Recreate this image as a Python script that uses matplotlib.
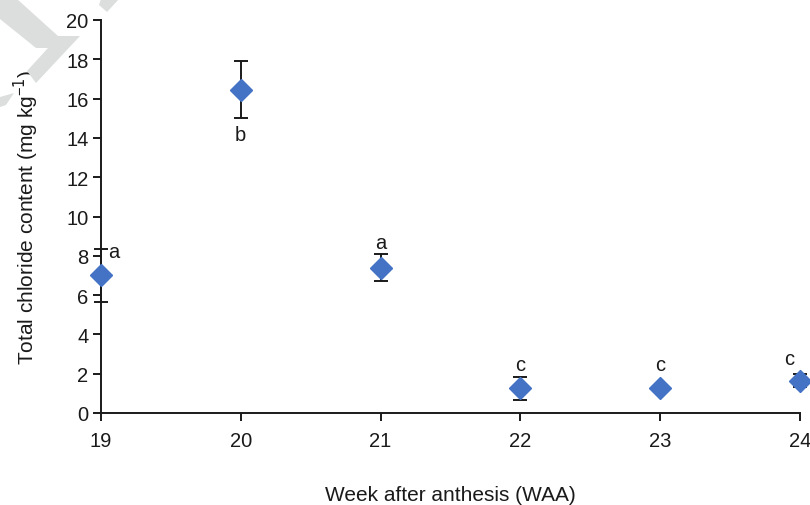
import numpy as np
import matplotlib.pyplot as plt
from matplotlib.patches import Polygon

# ===== DATA =====
weeks = [19, 20, 21, 22, 23, 24]
chloride = [7.0, 16.45, 7.4, 1.25, 1.25, 1.65]
errors = [1.35, 1.45, 0.68, 0.6, 0.15, 0.35]
letters = ['a', 'b', 'a', 'c', 'c', 'c']

plt.rcParams['font.family'] = ['Liberation Sans', 'DejaVu Sans']

W, H = 810, 506
fig = plt.figure(figsize=(W / 100, H / 100), dpi=100)
ax = fig.add_axes([101 / W, 92 / H, 699 / W, 393 / H])

# faint watermark fragments in the corner (pixel outlines)
marks = [
    [(0, 0), (17, 0), (58, 37), (80, 37), (36, 84), (27, 72), (48, 49), (36, 49), (0, 20)],
    [(0, 98), (14, 94), (6, 106), (0, 108)],
    [(101, 0), (119, 0), (107, 13), (99, 6)],
]
for pts in marks:
    fig.patches.append(Polygon([(x / W, 1 - y / H) for x, y in pts], closed=True,
                               transform=fig.transFigure, facecolor='#dcdddd',
                               edgecolor='none', zorder=0))

ax.errorbar(weeks, chloride, yerr=errors, fmt='none', ecolor='#1a1a1a',
            elinewidth=1.4, capsize=5, capthick=1.4, zorder=2, clip_on=False)
ax.plot(weeks, chloride, linestyle='none', marker='D', markersize=11.5,
        color='#4472C4', zorder=3, clip_on=False)

# significance letters
offsets = [(0.09, 1.2), (0, -2.3), (0, 1.3), (0, 1.2), (0, 1.2), (-0.08, 1.1)]
for w, v, lab, (dx, dy) in zip(weeks, chloride, letters, offsets):
    ax.text(w + dx, v + dy, lab, fontsize=14.5, ha='center', va='center', color='#1a1a1a')

ax.set_xlim(19, 24)
ax.set_ylim(0, 20)
ax.set_xticks(weeks)
ax.set_yticks(np.arange(0, 21, 2))
for s in ['top', 'right']:
    ax.spines[s].set_visible(False)
for s in ['left', 'bottom']:
    ax.spines[s].set_linewidth(1.4)
    ax.spines[s].set_color('#1a1a1a')
ax.tick_params(direction='out', length=6, width=1.4, labelsize=14.5, colors='#1a1a1a')
ax.tick_params(axis='x', pad=7)
ax.tick_params(axis='y', pad=3)

ax.set_xlabel('Week after anthesis (WAA)', fontsize=15, labelpad=25, color='#1a1a1a')
ax.set_ylabel('Total chloride content (mg kg$^{\\mathregular{\u2212}1}$)', fontsize=15,
              labelpad=18, color='#1a1a1a')

fig.savefig('out.png', dpi=100)
